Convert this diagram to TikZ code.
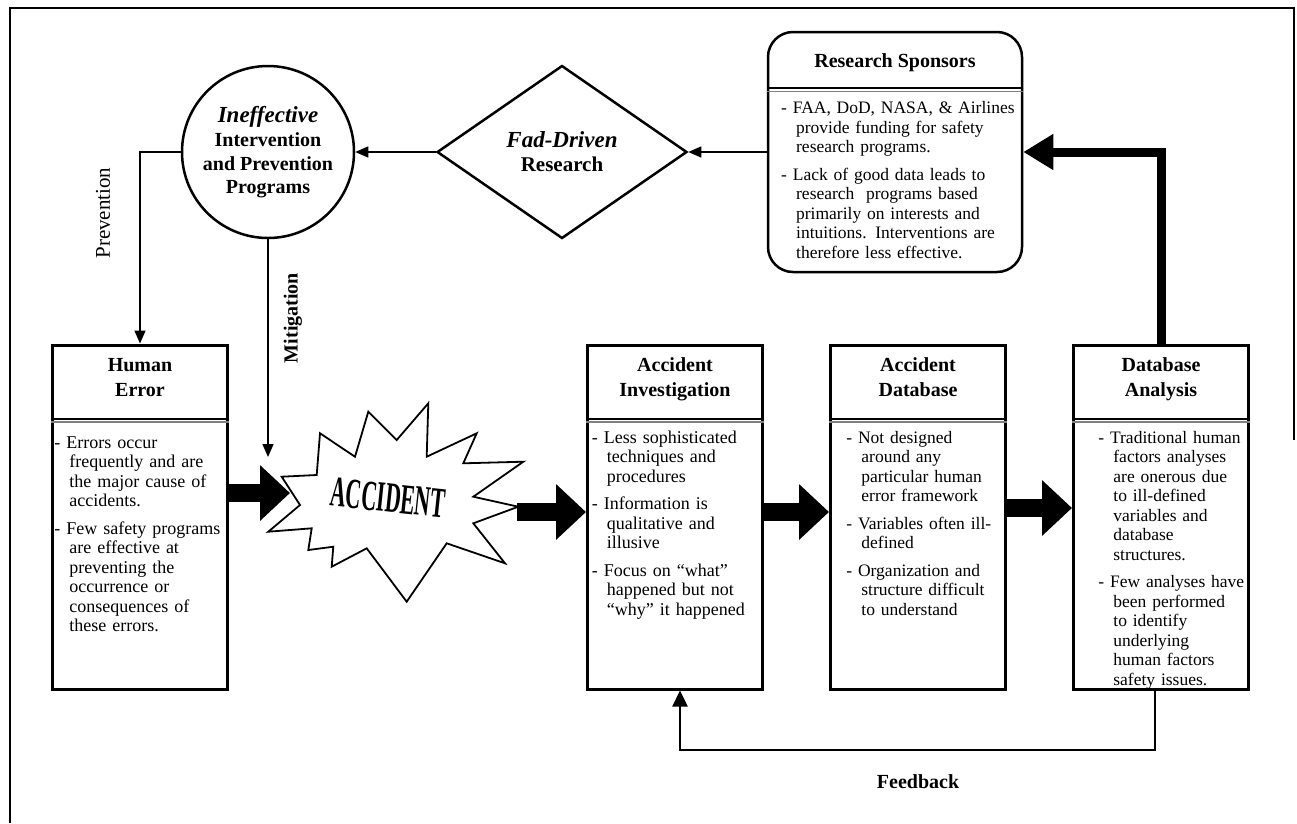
\documentclass[tikz,border=0pt]{standalone}
\usepackage{fontspec}
\setmainfont{Liberation Serif}
\newfontfamily\boomfont{Liberation Serif}[FakeStretch=0.5]
\usetikzlibrary{positioning, arrows.meta, shapes.geometric}

\newcommand{\itm}[1]{\par\addvspace{8pt}\hangindent=15pt\hangafter=1\noindent{\let\\\newline -~#1}\par}
\newcommand{\txtsize}[1]{\fontsize{#1}{19.5}\selectfont}

\begin{document}
\begin{tikzpicture}[x=1pt, y=-1pt, node distance=243pt, thick,
  box/.style = {draw, line width=3pt, minimum width=175pt, minimum height=344pt},
  ttl/.style = {font=\bfseries\fontsize{20}{25}\selectfont, align=center, text depth=5pt},
  txt/.style = {anchor=north west, inner sep=0pt, align=left, text width=#1},
  thin arrow/.style = {line width=1.4pt, -{Triangle[length=13pt, width=11pt]}},
  big arrow/.style = {line width=18pt, -{Triangle[length=30pt, width=54pt]}}]
\useasboundingbox (0,0) rectangle (1297,823);
\draw[line width=2.5pt] (10,823) -- (10,8) -- (1294,8) -- (1294,440);

% boxes along the bottom
\node[box] (herr) at (140,517) {};
\node[box] (accinv) at (675,517) {};
\node[box, right of=accinv] (accdb) {};
\node[box, right of=accdb] (dban) {};

\foreach \bx in {herr, accinv, accdb, dban} {
  \draw[line width=2pt] ([yshift=-75pt]\bx.north west) -- ([yshift=-75pt]\bx.north east);
  \draw[line width=1.2pt, gray] ([yshift=-78.5pt]\bx.north west) -- ([yshift=-78.5pt]\bx.north east);
}

\node[ttl] (herr-t) at ([yshift=-36pt]herr.north) {Human\\Error};
\node[ttl] (accinv-t) at ([yshift=-36pt]accinv.north) {Accident\\Investigation};
\node[ttl] (accdb-t) at ([yshift=-36pt]accdb.north) {Accident\\Database};
\node[ttl] (dban-t) at ([yshift=-36pt]dban.north) {Database\\Analysis};

\node[txt=170pt, font={\txtsize{18}}] (herr-b) at ([xshift=3pt, yshift=-77pt]herr.north west)
  {\itm{Errors occur\\frequently and are\\the major cause of\\accidents.}
   \itm{Few safety programs\\are effective at\\preventing the\\occurrence or\\consequences of\\these errors.}};
\node[txt=168pt, font={\txtsize{18}}] (accinv-b) at ([xshift=5.5pt, yshift=-72pt]accinv.north west)
  {\itm{Less sophisticated\\techniques and\\procedures}
   \itm{Information is\\qualitative and\\illusive}
   \itm{Focus on ``what''\\happened but not\\``why'' it happened}};
\node[txt=158pt, font={\txtsize{17.5}}] (accdb-b) at ([xshift=17pt, yshift=-72pt]accdb.north west)
  {\itm{Not designed\\around any\\particular human\\error framework}
   \itm{Variables often ill-\\defined}
   \itm{Organization and\\structure difficult\\to understand}};
\node[txt=150pt, font={\txtsize{17.5}}] (dban-b) at ([xshift=26pt, yshift=-72pt]dban.north west)
  {\itm{Traditional human\\factors analyses\\are onerous due\\to ill-defined\\variables and\\database\\structures.}
   \itm{Few analyses have\\been performed\\to identify\\underlying\\human factors\\safety issues.}};

% sponsors
\node[draw, rounded corners=25pt, line width=2.5pt, minimum width=254pt, minimum height=240pt] (rsp) at (895,152) {};
\node[ttl] (rsp-t) at ([yshift=-32pt]rsp.north) {Research Sponsors};
\draw[line width=2pt] ([yshift=-57pt]rsp.north west) -- ([yshift=-57pt]rsp.north east);
\draw[line width=1.2pt, gray] ([yshift=-60.5pt]rsp.north west) -- ([yshift=-60.5pt]rsp.north east);
\node[txt=238pt, font={\txtsize{17.5}}] (rsp-b) at ([xshift=14pt, yshift=-55pt]rsp.north west)
  {\itm{FAA, DoD, NASA, \& Airlines\\provide funding for safety\\research programs.}
   \itm{Lack of good data leads to\\research \ programs based\\primarily on interests and\\intuitions. Interventions are\\therefore less effective.}};

\node[diamond, draw, line width=2.5pt, minimum width=250pt, minimum height=173pt, inner sep=0pt,
  align=center, font=\bfseries\fontsize{21}{24}\selectfont] (fad) at (562,152)
  {{\fontsize{23}{24}\selectfont\itshape Fad-Driven}\\Research};
\node[circle, draw, line width=2.5pt, minimum size=172pt, inner sep=0pt,
  align=center, font=\bfseries\fontsize{20}{23.5}\selectfont] (ineff) at (268,152)
  {{\fontsize{23}{26}\selectfont\itshape Ineffective}\\[1pt]Intervention\\and Prevention\\Programs};

\draw[thin arrow] (rsp.west) -- (fad.east);
\draw[thin arrow] (fad.west) -- (ineff.east);
\draw[thin arrow] (ineff.west) -| (herr.north);
\coordinate (mitend) at (268,457);
\draw[thin arrow] (ineff.south) -- (mitend);
\node[rotate=90, font=\fontsize{21}{21}\selectfont] (prevlbl) at (103,213) {Prevention};
\node[rotate=90, font=\bfseries\fontsize{20}{20}\selectfont] (mitlbl) at (293,318) {Mitigation};

\draw[line width=9pt, -{Triangle[length=30pt, width=34pt]}] (dban.north) |- (rsp.east);

% the accident burst
\draw[line width=1.8pt, fill=white] (281.7,476.7) -- (316.7,475) -- (320,433.3) -- (355,456.7)
  -- (368.3,411.7) -- (396.7,440) -- (428.3,403.3) -- (426.7,456.7) -- (476.7,433.3)
  -- (463.3,463.3) -- (523.3,461.7) -- (473.3,496.7) -- (518.3,506.7) -- (473.3,523.3)
  -- (505,563.3) -- (446.7,543.3) -- (406.7,601.7) -- (366.7,548.3) -- (331.7,566.7)
  -- (333.3,546.7) -- (308.3,550) -- (311.7,528.3) -- (268.3,531.7) -- (300,505) -- cycle;
\node[rotate=-6, font=\boomfont\bfseries\fontsize{43}{43}\selectfont] (acc) at (388,498) {ACCIDENT};

\coordinate (accw) at (290,493);
\coordinate (acce) at (517,512);
\draw[big arrow] (herr.east |- accw) -- (accw);
\draw[big arrow] (acce) -- (accinv.west |- acce);
\draw[big arrow] ([yshift=5pt]accinv.east) -- ([yshift=5pt]accdb.west);
\draw[big arrow] ([yshift=9pt]accdb.east) -- ([yshift=9pt]dban.west);

% feedback loop
\coordinate (fbr) at (1155,750);
\coordinate (fbl) at (680,750);
\draw[line width=2.5pt, -{Triangle[length=16pt, width=15pt]}] (dban.south -| fbr) -- (fbr) -- (fbl) -- (accinv.south -| fbl);
\node[font=\bfseries\fontsize{20}{20}\selectfont] (fbk) at (918,782) {Feedback};
\end{tikzpicture}
\end{document}
